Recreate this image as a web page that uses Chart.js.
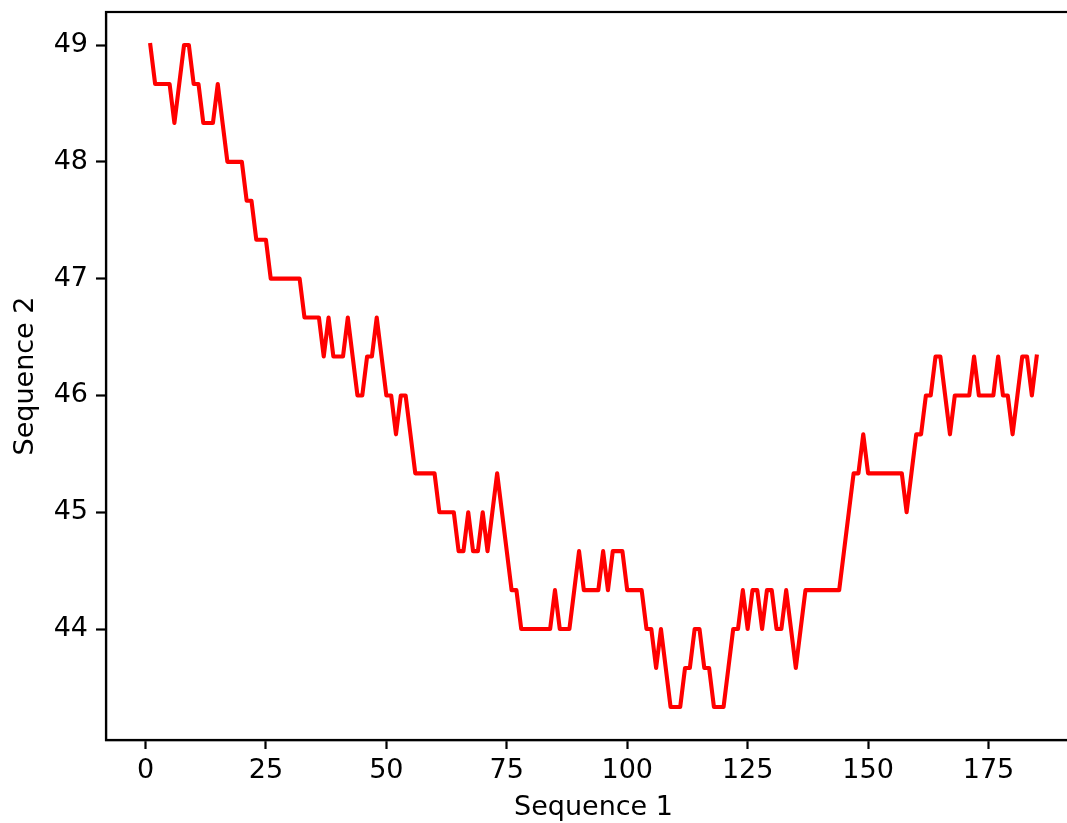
<!DOCTYPE html>
<html>
<head>
<meta charset="utf-8">
<script src="https://cdn.jsdelivr.net/npm/chart.js@4/dist/chart.umd.min.js"></script>
<style>
  html, body { margin: 0; padding: 0; background: #ffffff; overflow: hidden; width: 1067px; height: 823px; }
  #wrap { position: absolute; left: 0; top: 0; width: 1090px; height: 823px; }
</style>
</head>
<body>
<div id="wrap"><canvas id="c" width="1090" height="823"></canvas></div>
<script>
// Sequence 1 positions (x) and Sequence 2 values (y)
const seq1 = Array.from({length: 185}, (_, i) => i + 1);
const seq2 = [
  49, 48.667, 48.667, 48.667, 48.667, 48.333, 48.667, 49, 49, 48.667,
  48.667, 48.333, 48.333, 48.333, 48.667, 48.333, 48, 48, 48, 48,
  47.667, 47.667, 47.333, 47.333, 47.333, 47, 47, 47, 47, 47,
  47, 47, 46.667, 46.667, 46.667, 46.667, 46.333, 46.667, 46.333, 46.333,
  46.333, 46.667, 46.333, 46, 46, 46.333, 46.333, 46.667, 46.333, 46,
  46, 45.667, 46, 46, 45.667, 45.333, 45.333, 45.333, 45.333, 45.333,
  45, 45, 45, 45, 44.667, 44.667, 45, 44.667, 44.667, 45,
  44.667, 45, 45.333, 45, 44.667, 44.333, 44.333, 44, 44, 44,
  44, 44, 44, 44, 44.333, 44, 44, 44, 44.333, 44.667,
  44.333, 44.333, 44.333, 44.333, 44.667, 44.333, 44.667, 44.667, 44.667, 44.333,
  44.333, 44.333, 44.333, 44, 44, 43.667, 44, 43.667, 43.333, 43.333,
  43.333, 43.667, 43.667, 44, 44, 43.667, 43.667, 43.333, 43.333, 43.333,
  43.667, 44, 44, 44.333, 44, 44.333, 44.333, 44, 44.333, 44.333,
  44, 44, 44.333, 44, 43.667, 44, 44.333, 44.333, 44.333, 44.333,
  44.333, 44.333, 44.333, 44.333, 44.667, 45, 45.333, 45.333, 45.667, 45.333,
  45.333, 45.333, 45.333, 45.333, 45.333, 45.333, 45.333, 45, 45.333, 45.667,
  45.667, 46, 46, 46.333, 46.333, 46, 45.667, 46, 46, 46,
  46, 46.333, 46, 46, 46, 46, 46.333, 46, 46, 45.667,
  46, 46.333, 46.333, 46, 46.333
];
const xTicks = [0, 25, 50, 75, 100, 125, 150, 175];
const yTicks = [44, 45, 46, 47, 48, 49];
const xLabel = 'Sequence 1';
const yLabel = 'Sequence 2';

const points = seq1.map((x, i) => ({x: x, y: seq2[i]}));

const FONT = {family: 'DejaVu Sans', size: 27};

const framePlugin = {
  id: 'frame',
  afterDraw(chart) {
    const a = chart.chartArea;
    const ctx = chart.ctx;
    ctx.save();
    ctx.strokeStyle = '#000000';
    ctx.lineWidth = 2.2;
    ctx.strokeRect(a.left, a.top, a.right - a.left, a.bottom - a.top);
    ctx.restore();
  }
};

new Chart(document.getElementById('c'), {
  type: 'line',
  data: {
    datasets: [{
      data: points,
      borderColor: '#ff0000',
      borderWidth: 4.1,
      pointRadius: 0,
      tension: 0,
      fill: false,
      borderJoinStyle: 'round',
      borderCapStyle: 'square'
    }]
  },
  options: {
    responsive: false,
    animation: false,
    devicePixelRatio: 1,
    layout: {padding: {left: 0, top: 12, right: 9, bottom: 0}},
    plugins: {legend: {display: false}, tooltip: {enabled: false}},
    scales: {
      x: {
        type: 'linear',
        min: -8.2,
        max: 194.2,
        afterBuildTicks: (axis) => { axis.ticks = xTicks.map(v => ({value: v})); },
        afterFit: (axis) => { axis.height = 83; axis.paddingLeft = 0; axis.paddingRight = 0; },
        grid: {display: true, drawOnChartArea: false, drawTicks: true, tickLength: 9, tickWidth: 2.2, tickColor: '#000000'},
        border: {display: true, color: '#000000', width: 2.2},
        ticks: {color: '#000000', font: FONT, padding: 6, maxRotation: 0, autoSkip: false},
        title: {display: true, text: xLabel, color: '#000000', font: FONT, padding: {top: 0, bottom: -1}}
      },
      y: {
        type: 'linear',
        min: 43.05,
        max: 49.283,
        afterBuildTicks: (axis) => { axis.ticks = yTicks.map(v => ({value: v})); },
        afterFit: (axis) => { axis.width = 106; axis.paddingTop = 0; axis.paddingBottom = 0; },
        grid: {display: true, drawOnChartArea: false, drawTicks: true, tickLength: 10, tickWidth: 2.2, tickColor: '#000000'},
        border: {display: true, color: '#000000', width: 2.2},
        ticks: {color: '#000000', font: FONT, padding: 8, autoSkip: false},
        title: {display: true, text: yLabel, color: '#000000', font: FONT, padding: {top: 10, bottom: 0}}
      }
    }
  },
  plugins: [framePlugin]
});
</script>
</body>
</html>
